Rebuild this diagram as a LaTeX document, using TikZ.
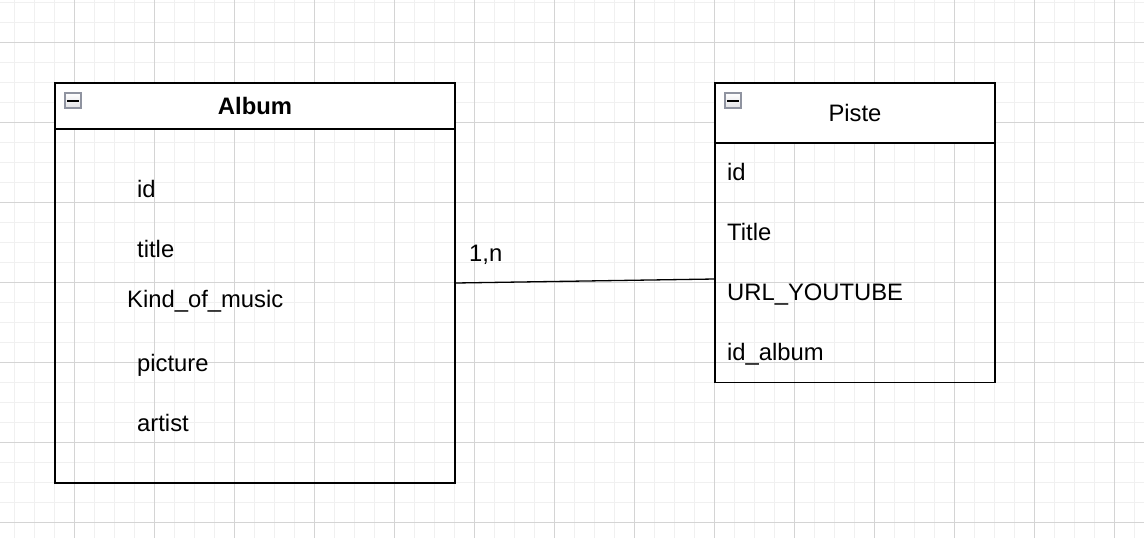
\documentclass[tikz,border=0pt]{standalone}
\usepackage{fontspec}
\setmainfont{Liberation Sans}
\usetikzlibrary{positioning}
\definecolor{gridminor}{HTML}{F0F0F0}
\definecolor{gridmajor}{HTML}{D4D4D4}
\definecolor{iconedge}{HTML}{8F93A0}
\definecolor{iconfill}{HTML}{E2E2E6}
\tikzset{
  table/.style={draw=black, line width=1.4pt, inner sep=0pt},
  head/.style={draw=black, line width=1.4pt, fill=white, inner sep=0pt, font=\fontsize{23.8}{28}\selectfont},
  field/.style={anchor=base west, inner sep=0pt, font=\fontsize{23.8}{28}\selectfont},
  icon/.style={draw=iconedge, line width=1.2pt, top color=white, bottom color=iconfill, minimum width=16pt, minimum height=15pt, inner sep=0pt},
  link/.style={draw=black, line width=1.3pt}
}
\begin{document}
\begin{tikzpicture}[x=1pt,y=-1pt]
				\useasboundingbox (0,0) rectangle (1144,538);
				\fill[white] (0,0) rectangle (1144,538);
				% grid
				\foreach \x in {14,34,...,1134} \draw[gridminor, line width=1pt] (\x,0) -- (\x,538);
				\foreach \y in {2,22,...,522} \draw[gridminor, line width=1pt] (0,\y) -- (1144,\y);
				\foreach \x in {74,154,...,1114} \draw[gridmajor, line width=1pt] (\x,0) -- (\x,538);
				\foreach \y in {42,122,...,522} \draw[gridmajor, line width=1pt] (0,\y) -- (1144,\y);
				% Album
				\node[table, minimum width=400pt, minimum height=400pt] (album) at (255,283) {};
				\node[head, minimum width=400pt, minimum height=46pt] (albumhead) at (255,106) {\bfseries Album};
				\node[icon] (albumicon) at (73,100.5) {};
				\draw[line width=2pt] ([xshift=-6pt]albumicon.center) -- ([xshift=6pt]albumicon.center);
				\node[field] (albumid) at (137,197) {id};
				\node[field] (albumtitle) at (137,257) {title};
				\node[field] (albumkind) at (127,307) {Kind\_of\_music};
				\node[field] (albumpicture) at (137,371) {picture};
				\node[field] (albumartist) at (137,431) {artist};
				% Piste
				\node[table, minimum width=280pt, minimum height=299.5pt] (piste) at (855,232.75) {};
				\node[head, minimum width=280pt, minimum height=60pt] (pistehead) at (855,113) {Piste};
				\node[icon] (pisteicon) at (733,100.5) {};
				\draw[line width=2pt] ([xshift=-6pt]pisteicon.center) -- ([xshift=6pt]pisteicon.center);
				\node[field] (pisteid) at (727,180.5) {id};
				\node[field] (pistetitle) at (727,240.5) {Title};
				\node[field] (pisteurl) at (727,300.5) {URL\_YOUTUBE};
				\node[field] (pistealbum) at (727,360.5) {id\_album};
				% relation
				\coordinate (pisteport) at (715,279);
				\draw[link] (album.east) -- (pisteport);
				\node[field] (card) at (469,261) {1,n};
\end{tikzpicture}
\end{document}
